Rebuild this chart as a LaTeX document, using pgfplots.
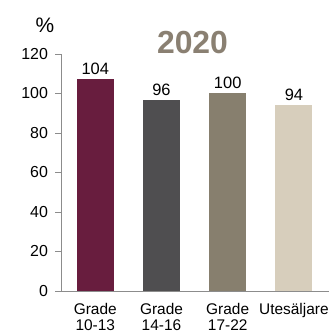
\documentclass[border=0pt]{standalone}
\usepackage{pgfplots}
\pgfplotsset{compat=1.18}
\usepackage{fontspec}
\setmainfont{Liberation Sans}
\definecolor{cA}{HTML}{681D3E}
\definecolor{cB}{HTML}{4F4E50}
\definecolor{cC}{HTML}{877F6E}
\definecolor{cD}{HTML}{D7CEBC}
\definecolor{ttl}{HTML}{8A8072}
\definecolor{axg}{HTML}{8C8C8C}
\begin{document}
\begin{tikzpicture}
\path[use as bounding box] (-61.5bp,-43bp) rectangle (267.5bp,291bp);
\begin{axis}[
  at={(0,0)}, anchor=south west,
  scale only axis,
  width=267.5bp, height=237bp,
  xmin=-0.51, xmax=3.53,
  ymin=0, ymax=120,
  ytick={0,20,...,120},
  xtick={0,1,2,3},
  xticklabels={{Grade\\10-13},{Grade\\14-16},{Grade\\17-22},{Utesäljare}},
  xticklabel style={align=center, font=\fontsize{15.5}{16}\selectfont, anchor=north, inner sep=0pt, yshift=-6.5bp},
  yticklabel style={font=\fontsize{16}{17}\selectfont, xshift=-4bp},
  /pgf/number format/assume math mode=true,
  axis x line*=bottom,
  axis y line*=left,
  axis line style={axg, line width=0.8pt},
  x axis line style={-},
  y axis line style={-},
  xtick style={draw=none},
  ytick style={axg, line width=0.8pt},
  tick align=outside,
  major tick length=6bp,
  ybar, bar width=37bp,
  nodes near coords,
  point meta=explicit symbolic,
  every node near coord/.append style={font=\fontsize{16.5}{17}\selectfont, black, anchor=south, yshift=1bp},
  clip=false,
]
\addplot[fill=cA, draw=none, bar shift=0pt] coordinates {(0,107.3) [104]};
\addplot[fill=cB, draw=none, bar shift=0pt] coordinates {(1,96.7) [96]};
\addplot[fill=cC, draw=none, bar shift=0pt] coordinates {(2,100) [100]};
\addplot[fill=cD, draw=none, bar shift=0pt] coordinates {(3,94) [94]};
\end{axis}
\node[anchor=base, font=\bfseries\fontsize{32}{34}\selectfont, text=ttl, inner sep=0] at (131bp,237.7bp) {2020};
\node[anchor=base, font=\fontsize{21}{23}\selectfont, inner sep=0] at (-16.5bp,258.3bp) {\%};
\end{tikzpicture}
\end{document}
